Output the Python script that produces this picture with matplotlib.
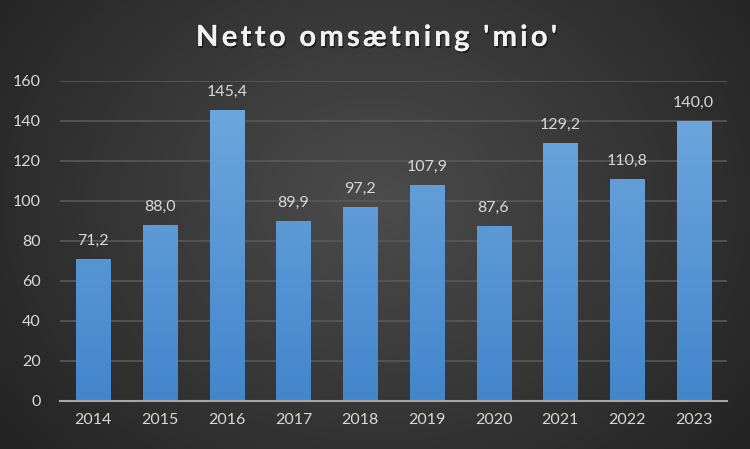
import numpy as np
import matplotlib
matplotlib.use("Agg")
import matplotlib.pyplot as plt
import matplotlib.patheffects as pe
from matplotlib.colors import LinearSegmentedColormap

years = ["2014", "2015", "2016", "2017", "2018", "2019", "2020", "2021", "2022", "2023"]
values = [71.2, 88.0, 145.4, 89.9, 97.2, 107.9, 87.6, 129.2, 110.8, 140.0]
yticks = [0, 20, 40, 60, 80, 100, 120, 140, 160]
title = "Netto omsætning 'mio'"

plt.rcParams['font.family'] = ['Lato', 'DejaVu Sans']

W, H = 750, 449
fig = plt.figure(figsize=(W / 100, H / 100), dpi=100)

# radial gradient background
bg = fig.add_axes([0, 0, 1, 1], zorder=0)
yy, xx = np.mgrid[0:H, 0:W]
cx, cy = W * 0.5, H * 0.45
r = np.sqrt(((xx - cx) / (W * 0.62)) ** 2 + ((yy - cy) / (H * 0.85)) ** 2)
r = np.clip(r, 0, 1)
c_in = np.array([0x4c, 0x4c, 0x4c]) / 255
c_out = np.array([0x24, 0x24, 0x24]) / 255
img = c_in[None, None, :] * (1 - r[..., None]) + c_out[None, None, :] * r[..., None]
bg.imshow(img, aspect='auto', extent=[0, 1, 0, 1], origin='upper')
bg.axis('off')

left, right = 60 / W, 727 / W
bottom, top = 1 - 401 / H, 1 - 81 / H
ax = fig.add_axes([left, bottom, right - left, top - bottom], zorder=1)
ax.patch.set_alpha(0)

x = np.arange(len(years))
bars = ax.bar(x, values, width=0.51, color='none', zorder=2)
ax.set_xlim(-0.5, len(years) - 0.5)
ax.set_ylim(0, 160)

cmap = LinearSegmentedColormap.from_list('b', ['#4386cc', '#70a9df'])
grad = np.linspace(0, 1, 256).reshape(-1, 1)
for b in bars:
    bx, by = b.get_x(), b.get_y()
    bw, bh = b.get_width(), b.get_height()
    im = ax.imshow(grad, cmap=cmap, aspect='auto', origin='lower',
                   extent=[bx, bx + bw, 0, 160], zorder=2)
    im.set_clip_path(b)

for xi, v in zip(x, values):
    ax.annotate(f"{v:.1f}".replace('.', ','), (xi, v), xytext=(0, 8),
                textcoords='offset points', ha='center', va='bottom',
                color='#d9d9d9', fontsize=11.5)

ax.set_yticks(yticks)
ax.set_xticks(x)
ax.set_xticklabels(years)
ax.tick_params(axis='both', length=0, colors='#d9d9d9', labelsize=11.5)
ax.tick_params(axis='y', pad=14)
ax.tick_params(axis='x', pad=9)
ax.grid(axis='y', color='#595959', linewidth=1.2, zorder=0)
ax.set_axisbelow(True)
for s in ['top', 'right', 'left']:
    ax.spines[s].set_visible(False)
ax.spines['bottom'].set_color('#a6a6a6')
ax.spines['bottom'].set_linewidth(1.5)
ax.spines['bottom'].set_zorder(3)

# title with letter spacing
fig.canvas.draw()
renderer = fig.canvas.get_renderer()
tkw = dict(color='#f2f2f2', fontsize=21, fontweight='bold', va='center', ha='left',
           zorder=3)
widths = []
for i in range(len(title)):
    t = fig.text(0, 0, title[:i + 1] + "|", **tkw)
    t2 = fig.text(0, 0, "|", **tkw)
    widths.append(t.get_window_extent(renderer).width - t2.get_window_extent(renderer).width)
    t.remove(); t2.remove()
natural = widths[-1]
target = 361
n = len(title)
sp = (target - natural) / (n - 1)
x0 = 196
ty = 1 - 38 / H
prev = 0
for i, ch in enumerate(title):
    xpos = x0 + prev + i * sp
    t = fig.text(xpos / W, ty, ch, **tkw)
    t.set_path_effects([pe.withSimplePatchShadow(offset=(1, -1.5), shadow_rgbFace='black', alpha=0.45), pe.Normal()])
    prev = widths[i]

fig.savefig('out.png', dpi=100)
